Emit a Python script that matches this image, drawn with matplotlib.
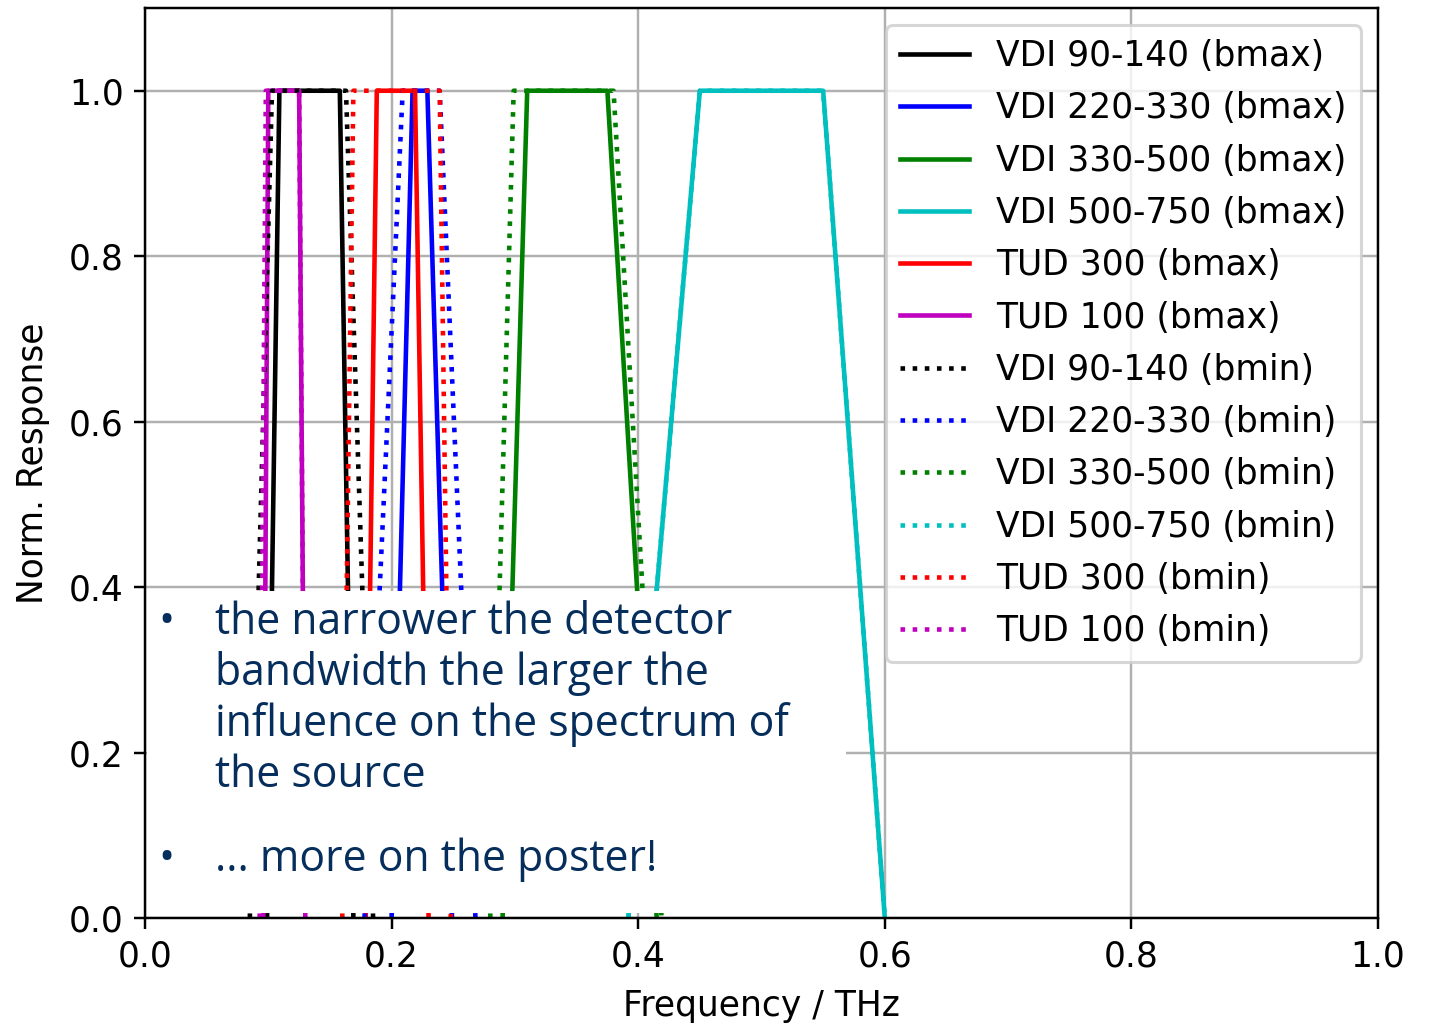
import matplotlib
matplotlib.use('Agg')
import matplotlib.pyplot as plt
from matplotlib.patches import Rectangle

plt.rcParams['font.size'] = 11.3

# normalized detector response, trapezoid corners (THz)
resp = [0, 1, 1, 0]

names = ['VDI 90-140', 'VDI 220-330', 'VDI 330-500', 'VDI 500-750', 'TUD 300', 'TUD 100']
colors = ['k', 'b', 'g', 'c', 'r', 'm']

f_bmax = [
    [0.099, 0.109, 0.158, 0.169],
    [0.200, 0.217, 0.229, 0.249],
    [0.290, 0.310, 0.375, 0.415],
    [0.392, 0.450, 0.550, 0.600],
    [0.179, 0.188, 0.219, 0.230],
    [0.096, 0.100, 0.125, 0.130],
]
f_bmin = [
    [0.085, 0.103, 0.163, 0.185],
    [0.178, 0.209, 0.239, 0.268],
    [0.280, 0.299, 0.380, 0.419],
    [0.392, 0.450, 0.550, 0.600],
    [0.160, 0.169, 0.239, 0.248],
    [0.093, 0.098, 0.125, 0.130],
]

bullet1 = ['the narrower the detector', 'bandwidth the larger the',
           'influence on the spectrum of', 'the source']
bullet2 = '... more on the poster!'

fig = plt.figure(figsize=(1434/220, 1024/220), dpi=220)
ax = fig.add_axes([145/1434, 1-918/1024, (1378-145)/1434, (918-8)/1024])

for i in range(len(names)):
    ax.plot(f_bmax[i], resp, colors[i], linestyle='-', label=names[i] + ' (bmax)')
for i in range(len(names)):
    ax.plot(f_bmin[i], resp, colors[i], linestyle=':', label=names[i] + ' (bmin)')

ax.set_xlim(0, 1)
ax.set_ylim(0, 1.1)
ax.set_xticks([0, 0.2, 0.4, 0.6, 0.8, 1.0])
ax.set_yticks([0, 0.2, 0.4, 0.6, 0.8, 1.0])
ax.grid(True)
ax.set_xlabel('Frequency / THz', labelpad=5)
ax.set_ylabel('Norm. Response', labelpad=6)
ax.legend(loc='upper right', labelspacing=0.53)

# white text panel pasted over the lower left part of the plot
W, H = 1434, 1024
box = Rectangle((147/W, 1-913/H), (846-147)/W, (913-591)/H, transform=fig.transFigure,
                facecolor='white', edgecolor='none', zorder=10)
fig.patches.append(box)

navy = '#062e5c'
tk = dict(fontsize=14, color=navy, family='Open Sans', va='baseline', zorder=11)
fig.text(158/W, 1-634/H, '\u2022', **tk)
for j in range(len(bullet1)):
    fig.text(215/W, 1-(634+51*j)/H, bullet1[j], **tk)
fig.text(158/W, 1-871/H, '\u2022', **tk)
fig.text(215/W, 1-871/H, bullet2, **tk)

fig.savefig('out.png', dpi=220)
